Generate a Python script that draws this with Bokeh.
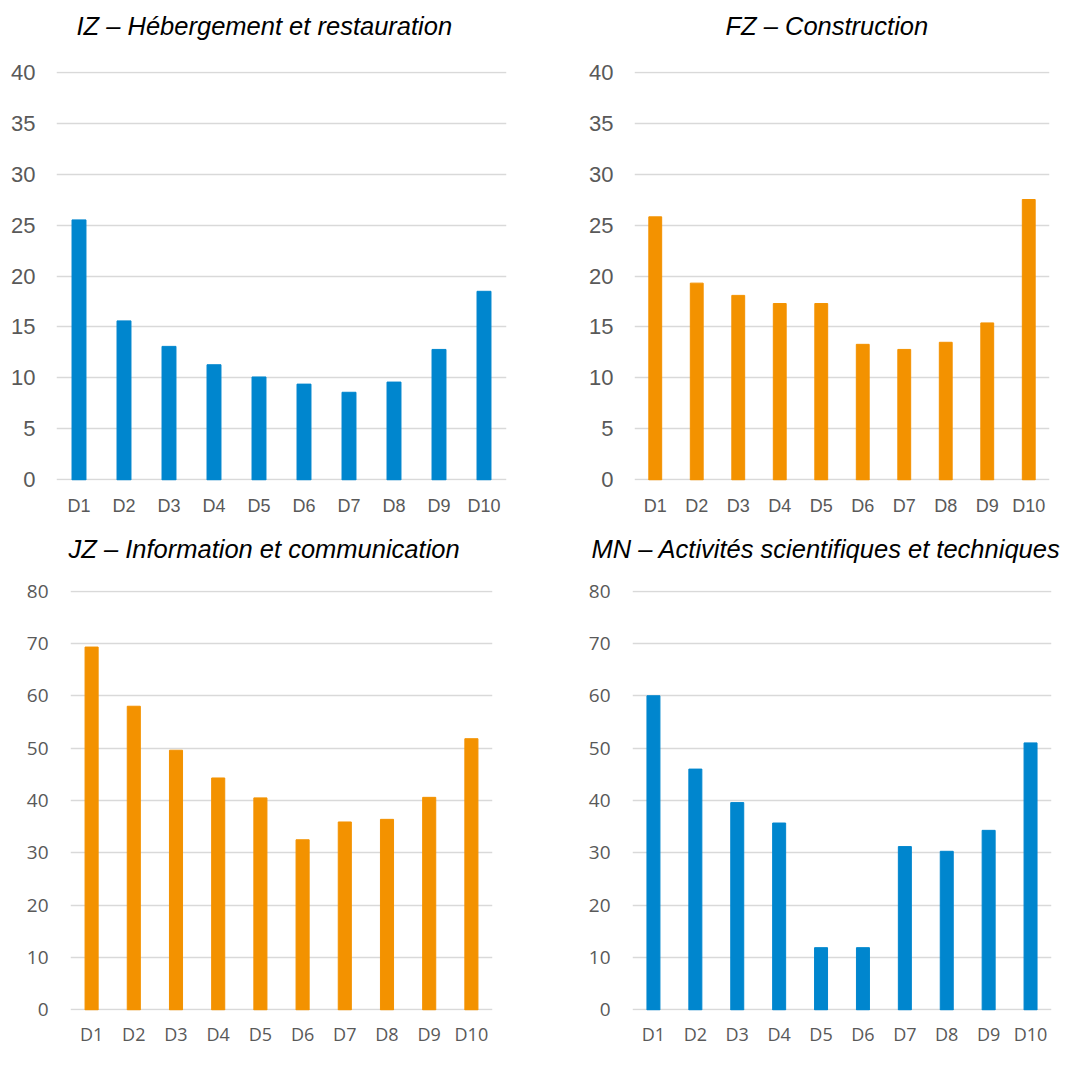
from bokeh.plotting import figure
from bokeh.layouts import column, row
from bokeh.models import Range1d, FactorRange, ColumnDataSource, SingleIntervalTicker, Label
from bokeh.embed import file_html
from bokeh.resources import INLINE

categories = ["D1", "D2", "D3", "D4", "D5", "D6", "D7", "D8", "D9", "D10"]

iz_values = [25.5, 15.6, 13.1, 11.3, 10.1, 9.4, 8.6, 9.6, 12.8, 18.5]
fz_values = [25.8, 19.3, 18.1, 17.3, 17.3, 13.3, 12.8, 13.5, 15.4, 27.5]
jz_values = [69.3, 58.0, 49.6, 44.3, 40.5, 32.5, 35.9, 36.4, 40.6, 51.8]
mn_values = [60.0, 46.0, 39.6, 35.7, 11.9, 11.9, 31.2, 30.3, 34.3, 51.0]

titles = [
    "IZ \u2013 H\u00e9bergement et restauration",
    "FZ \u2013 Construction",
    "JZ \u2013 Information et communication",
    "MN \u2013 Activit\u00e9s scientifiques et techniques",
]

BLUE = "#0086CE"
ORANGE = "#F39200"
GRID = "#D9D9D9"
LABEL = "#595959"
TITLE_H = 45


def title_fig(text, w, tx, ty):
    t = figure(width=w, height=TITLE_H, x_range=Range1d(0, w), y_range=Range1d(0, TITLE_H),
               x_axis_type=None, y_axis_type=None, output_backend="svg",
               toolbar_location=None, min_border=0)
    t.xgrid.visible = False
    t.ygrid.visible = False
    t.outline_line_color = None
    t.add_layout(Label(x=tx, y=ty, text=text, text_align="left", text_baseline="middle",
                       text_font="Liberation Sans", text_font_style="italic",
                       text_font_size="25.5px", text_color="black"))
    return t


def make(values, color, ymax, step, w, h, bl, br, bt, bb,
         ytick_font, ytick_size, ystand, xtick_font, xtick_size, xstand):
    src = ColumnDataSource(dict(cat=categories, val=values))
    pad = ymax / 800.0
    p = figure(x_range=FactorRange(*categories), y_range=Range1d(-pad, ymax + pad),
               width=w, height=h, output_backend="svg", toolbar_location=None,
               min_border_left=bl, min_border_right=br,
               min_border_top=bt, min_border_bottom=bb)
    p.vbar(x="cat", top="val", bottom=0, width=0.31, source=src, color=color)
    p.outline_line_color = None
    p.background_fill_color = "white"
    p.border_fill_color = "white"
    p.xgrid.grid_line_color = None
    p.ygrid.grid_line_color = GRID
    p.ygrid.grid_line_width = 1.5
    p.yaxis.ticker = SingleIntervalTicker(interval=step)
    for ax in (p.xaxis, p.yaxis):
        ax.axis_line_color = None
        ax.major_tick_line_color = None
        ax.minor_tick_line_color = None
        ax.major_label_text_color = LABEL
    p.yaxis.major_label_text_font = ytick_font
    p.yaxis.major_label_text_font_size = ytick_size
    p.yaxis.major_label_standoff = ystand
    p.xaxis.major_label_text_font = xtick_font
    p.xaxis.major_label_text_font_size = xtick_size
    p.xaxis.major_label_standoff = xstand
    return p


t1 = title_fig(titles[0], 540, 76, 20)
t2 = title_fig(titles[1], 536, 185, 20)
t3 = title_fig(titles[2], 540, 68, 17)
t4 = title_fig(titles[3], 536, 51, 17)

p1 = make(iz_values, BLUE, 40, 5, 540, 520 - TITLE_H, 56, 34, 71 - TITLE_H, 40,
          "Liberation Sans", "22px", 15, "Liberation Sans", "18px", 9)
p2 = make(fz_values, ORANGE, 40, 5, 536, 520 - TITLE_H, 94, 27, 71 - TITLE_H, 40,
          "Liberation Sans", "22px", 15, "Liberation Sans", "18px", 9)
p3 = make(jz_values, ORANGE, 80, 10, 540, 545 - TITLE_H, 70, 48, 70 - TITLE_H, 55,
          "Open Sans", "19px", 16, "Open Sans", "18px", 5)
p4 = make(mn_values, BLUE, 80, 10, 536, 545 - TITLE_H, 92, 25, 70 - TITLE_H, 55,
          "Open Sans", "19px", 16, "Open Sans", "18px", 5)

layout = column(row(t1, t2, spacing=0), row(p1, p2, spacing=0),
                row(t3, t4, spacing=0), row(p3, p4, spacing=0), spacing=0)

open("out.html", "w").write(file_html(layout, INLINE))
